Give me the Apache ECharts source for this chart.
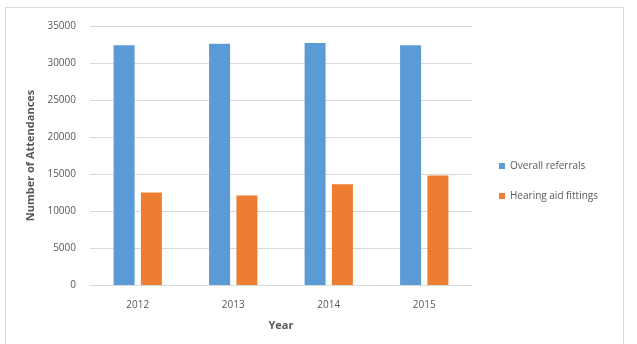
<!DOCTYPE html>
<html><head><meta charset="utf-8">
<script src="https://cdn.jsdelivr.net/npm/echarts@6/dist/echarts.min.js"></script>
<style>html,body{margin:0;padding:0;background:#fff}#c{width:637px;height:344px}
#frame{position:absolute;left:5px;top:7px;width:619px;height:340px;border:1px solid #d9d9d9;box-sizing:border-box;pointer-events:none}</style>
</head><body><div id="c"></div><div id="frame"></div>
<script>
const categories = ['2012', '2013', '2014', '2015'];
const overallReferrals = [32400, 32600, 32700, 32400];
const hearingAidFittings = [12500, 12100, 13600, 14800];
const yTicks = [0, 5000, 10000, 15000, 20000, 25000, 30000, 35000];

const chart = echarts.init(document.getElementById('c'));
const txt = '#595959';
chart.setOption({
  animation: false,
  textStyle: {fontFamily: 'Open Sans'},
  grid: {left: 90, right: 165, top: 26, bottom: 59, containLabel: false},
  legend: {
    orient: 'vertical', left: 494, top: 156, itemWidth: 6, itemHeight: 6, itemGap: 20,
    icon: 'rect',
    textStyle: {color: txt, fontSize: 10, fontFamily: 'Open Sans'},
    data: ['Overall referrals', 'Hearing aid fittings']
  },
  xAxis: {
    type: 'category', data: categories,
    name: 'Year', nameLocation: 'middle', nameGap: 35,
    nameTextStyle: {color: txt, fontSize: 11, fontWeight: 'bold'},
    axisLine: {lineStyle: {color: '#d9d9d9'}},
    axisTick: {show: false},
    axisLabel: {color: txt, fontSize: 10, margin: 15}
  },
  yAxis: {
    type: 'value', min: yTicks[0], max: yTicks[yTicks.length - 1], interval: 5000,
    name: 'Number of Attendances', nameLocation: 'middle', nameGap: 52,
    nameTextStyle: {color: txt, fontSize: 11, fontWeight: 'bold'},
    axisLine: {show: false}, axisTick: {show: false},
    axisLabel: {color: txt, fontSize: 10, margin: 14, formatter: v => String(v)},
    splitLine: {lineStyle: {color: '#d9d9d9'}}
  },
  series: [
    {name: 'Overall referrals', type: 'bar', data: overallReferrals, barWidth: 21, barGap: '30%',
     itemStyle: {color: '#5b9bd5'}},
    {name: 'Hearing aid fittings', type: 'bar', data: hearingAidFittings, barWidth: 21,
     itemStyle: {color: '#ed7d31'}}
  ]
});
</script></body></html>
